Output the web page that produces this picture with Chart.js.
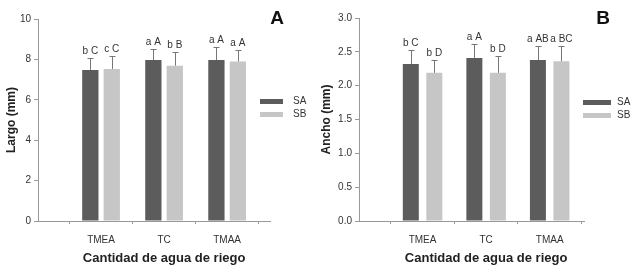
<!DOCTYPE html>
<html><head><meta charset="utf-8">
<script src="https://cdn.jsdelivr.net/npm/chart.js@4.4.1/dist/chart.umd.min.js"></script>
<style>
html,body{margin:0;padding:0;background:#fff;}
#wrap{position:relative;width:634px;height:267px;overflow:hidden;background:#fff;}
.box{position:absolute;top:0;width:317px;height:267px;}
</style></head><body>
<div id="wrap">
<div class="box" style="left:0"><canvas id="cA"></canvas></div>
<div class="box" style="left:317px"><canvas id="cB"></canvas></div>
</div>
<script>
const categories = ['TMEA', 'TC', 'TMAA'];
const seriesNames = ['SA', 'SB'];
const xTitle = 'Cantidad de agua de riego';

// Panel A: Largo (mm)
const largoSA = [7.48, 7.97, 7.97];
const largoSB = [7.52, 7.69, 7.90];
const largoSAErr = [0.60, 0.56, 0.66];
const largoSBErr = [0.66, 0.68, 0.55];
const largoSALetters = ['b C', 'a A', 'a A'];
const largoSBLetters = ['c C', 'b B', 'a A'];
const largoTicks = [0, 2, 4, 6, 8, 10];

// Panel B: Ancho (mm)
const anchoSA = [2.32, 2.41, 2.38];
const anchoSB = [2.19, 2.19, 2.36];
const anchoSAErr = [0.21, 0.21, 0.21];
const anchoSBErr = [0.19, 0.25, 0.22];
const anchoSALetters = ['b C', 'a A', 'a AB'];
const anchoSBLetters = ['b D', 'b D', 'a BC'];
const anchoTicks = [0, 0.5, 1.0, 1.5, 2.0, 2.5, 3.0];

const FONT = "'Liberation Sans', Arial, sans-serif";
const COLORS = ['#5c5c5c', '#c6c6c6'];

const annot = {
  id: 'annot',
  afterDatasetsDraw(chart) {
    const o = chart.options.plugins.annot;
    const ctx = chart.ctx, ys = chart.scales.y, xs = chart.scales.x;
    ctx.save();
    chart.data.datasets.forEach((ds, di) => {
      const meta = chart.getDatasetMeta(di);
      meta.data.forEach((bar, i) => {
        const v = ds.data[i].y;
        const top = Math.round(ys.getPixelForValue(v + ds.err[i])) + 0.5;
        const bx = Math.round(bar.x) + 0.5;
        ctx.strokeStyle = '#777';
        ctx.lineWidth = 1;
        ctx.beginPath();
        ctx.moveTo(bx, bar.y);
        ctx.lineTo(bx, top);
        ctx.moveTo(bx - 3, top);
        ctx.lineTo(bx + 3, top);
        ctx.stroke();
        ctx.fillStyle = '#333';
        ctx.font = '10px ' + FONT;
        ctx.textAlign = 'center';
        ctx.textBaseline = 'alphabetic';
        ctx.fillText(ds.letters[i], bar.x, top - 5);
      });
    });
    // legend
    chart.data.datasets.forEach((ds, di) => {
      const cy = o.legendY[di];
      ctx.fillStyle = ds.backgroundColor;
      ctx.fillRect(o.legendX0, cy - 2, o.legendX1 - o.legendX0, 5);
      ctx.fillStyle = '#333';
      ctx.font = '10px ' + FONT;
      ctx.textAlign = 'left';
      ctx.textBaseline = 'middle';
      ctx.fillText(ds.label, o.legendText, cy + 0.5);
    });
    // panel letter
    ctx.fillStyle = '#111';
    ctx.font = 'bold 19px ' + FONT;
    ctx.textAlign = 'center';
    ctx.textBaseline = 'middle';
    ctx.fillText(o.panel, o.panelX, 19);
    // x title
    ctx.fillStyle = '#222';
    ctx.font = 'bold 13px ' + FONT;
    ctx.fillText(xTitle, xs.getPixelForValue(2), 258);
    ctx.restore();
  }
};

function makeChart(id, cfg) {
  const datasets = [
    { label: seriesNames[0], data: cfg.sa.map((v, i) => ({ x: i + 1, y: v })), err: cfg.saErr, letters: cfg.saLetters, backgroundColor: COLORS[0] },
    { label: seriesNames[1], data: cfg.sb.map((v, i) => ({ x: i + 1, y: v })), err: cfg.sbErr, letters: cfg.sbLetters, backgroundColor: COLORS[1] }
  ];
  return new Chart(document.getElementById(id), {
    type: 'bar',
    data: { datasets },
    plugins: [annot],
    options: {
      responsive: true,
      maintainAspectRatio: false,
      animation: false,
      events: [],
      categoryPercentage: cfg.catPct,
      barPercentage: cfg.barPct,
      layout: { padding: { top: cfg.padTop, right: cfg.padRight, left: 0, bottom: 0 } },
      plugins: {
        legend: { display: false },
        tooltip: { enabled: false },
        annot: cfg.annot
      },
      scales: {
        x: {
          type: 'linear',
          min: 0,
          max: cfg.xMax,
          offset: false,
          afterBuildTicks: s => { s.ticks = categories.map((c, i) => ({ value: i + 1 })); },
          afterFit: s => { s.height = 46; },
          ticks: {
            callback: v => categories[v - 1],
            font: { family: FONT, size: 10 },
            color: '#333',
            padding: 10,
            maxRotation: 0,
            autoSkip: false
          },
          grid: { drawOnChartArea: false, drawTicks: true, tickLength: 3, color: '#999' },
          border: { color: '#999', width: 1 }
        },
        y: {
          min: 0,
          max: cfg.ticks[cfg.ticks.length - 1],
          afterBuildTicks: s => { s.ticks = cfg.ticks.map(v => ({ value: v })); },
          afterFit: s => { s.width = cfg.yWidth; },
          ticks: {
            callback: v => Number(v).toFixed(cfg.decimals),
            font: { family: FONT, size: 10 },
            color: '#333',
            padding: 3
          },
          grid: { drawOnChartArea: false, drawTicks: true, tickLength: 4, color: '#999' },
          border: { color: '#999', width: 1 },
          title: {
            display: true,
            text: cfg.yTitle,
            font: { family: FONT, size: 12, weight: 'bold' },
            color: '#222',
            padding: { top: cfg.yTitlePad, bottom: 0 }
          }
        }
      }
    }
  });
}

makeChart('cA', {
  sa: largoSA, sb: largoSB, saErr: largoSAErr, sbErr: largoSBErr,
  saLetters: largoSALetters, sbLetters: largoSBLetters,
  ticks: largoTicks, decimals: 0, yTitle: 'Largo (mm)', yTitlePad: 4,
  xMax: 3.68, yWidth: 38, padTop: 19, padRight: 47, catPct: 0.68, barPct: 0.76,
  annot: { panel: 'A', panelX: 277, legendX0: 260, legendX1: 283, legendText: 293, legendY: [101, 114] }
});
makeChart('cB', {
  sa: anchoSA, sb: anchoSB, saErr: anchoSAErr, sbErr: anchoSBErr,
  saLetters: anchoSALetters, sbLetters: anchoSBLetters,
  ticks: anchoTicks, decimals: 1, yTitle: 'Ancho (mm)', yTitlePad: 2,
  xMax: 3.54, yWidth: 42, padTop: 18, padRight: 50, catPct: 0.74, barPct: 0.68,
  annot: { panel: 'B', panelX: 286, legendX0: 266, legendX1: 294, legendText: 300, legendY: [102, 115] }
});
</script>
</body></html>
